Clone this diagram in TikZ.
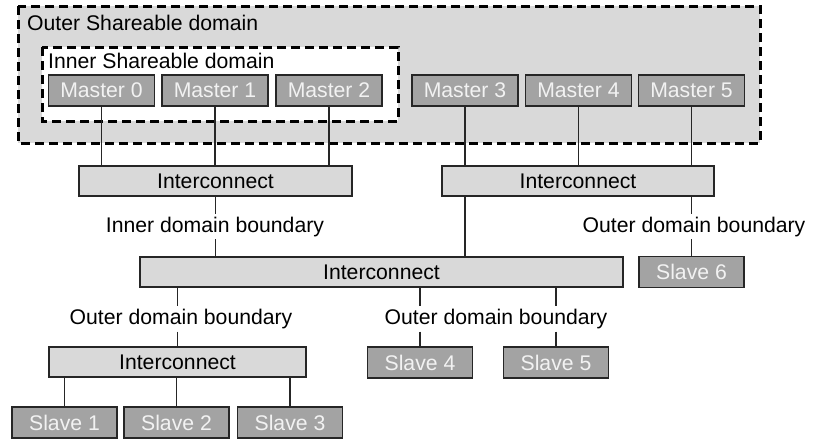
\documentclass[tikz,border=0pt]{standalone}
\usepackage{fontspec}
\setmainfont{Liberation Sans}
\definecolor{boxlight}{HTML}{D9D9D9}
\definecolor{devgray}{HTML}{A3A3A3}
\definecolor{devtext}{HTML}{F2F2F2}
\definecolor{linec}{HTML}{262626}
\begin{document}
\begin{tikzpicture}[x=1pt,y=-1pt,
  font=\fontsize{21.2}{25}\selectfont,
  every node/.style={inner sep=0pt},
  dev/.style={draw=linec, line width=1.2pt, fill=devgray, text=devtext,
    minimum width=106pt, minimum height=31pt},
  ic/.style={draw=linec, line width=1.2pt, fill=boxlight, minimum height=30pt},
  dom/.style={line width=3pt, dash pattern=on 9pt off 5pt},
  wire/.style={line width=1.2pt, draw=linec},
  lbl/.style={inner xsep=2pt, inner ysep=3pt, text height=15pt, text depth=4pt}]
\useasboundingbox (0,0) rectangle (822,439);
% domains
\draw[dom, fill=boxlight] (18,6) rectangle (760,143);
\draw[dom, fill=white] (42,47) rectangle (398,121);
\node[anchor=west] (outerlbl) at (27,23) {Outer Shareable domain};
\node[anchor=west] (innerlbl) at (48,61) {Inner Shareable domain};
% masters
\node[dev] (m0) at (101.5,90.5) {Master 0};
\node[dev] (m1) at (215,90.5) {Master 1};
\node[dev] (m2) at (329,90.5) {Master 2};
\node[dev] (m3) at (465,90.5) {Master 3};
\node[dev] (m4) at (578.5,90.5) {Master 4};
\node[dev] (m5) at (691.5,90.5) {Master 5};
% interconnects
\node[ic, minimum width=273pt] (ic1) at (215.5,181) {Interconnect};
\node[ic, minimum width=272pt] (ic2) at (578,181) {Interconnect};
\node[ic, minimum width=483pt] (icm) at (381.5,272) {Interconnect};
\node[ic, minimum width=257pt] (icb) at (177.5,362) {Interconnect};
% slaves
\node[dev, minimum width=105pt] (s6) at (691.5,272) {Slave 6};
\node[dev, minimum width=105pt] (s4) at (420,362.5) {Slave 4};
\node[dev, minimum width=105pt] (s5) at (556,362.5) {Slave 5};
\node[dev, minimum width=105pt] (s1) at (64.5,422.5) {Slave 1};
\node[dev, minimum width=105pt] (s2) at (176.5,422.5) {Slave 2};
\node[dev, minimum width=105pt] (s3) at (290,422.5) {Slave 3};
% boundary labels
\node[lbl] (ib) at (215,226.5) {Inner domain boundary};
\node[lbl] (ob1) at (694,226.5) {Outer domain boundary};
\node[lbl] (ob2) at (181,319) {Outer domain boundary};
\node[lbl] (ob3) at (496,319) {Outer domain boundary};
% wires masters -> interconnects
\draw[wire] (m0) -- (m0 |- ic1.north);
\draw[wire] (m1) -- (m1 |- ic1.north);
\draw[wire] (m2) -- (m2 |- ic1.north);
\draw[wire] (m3) -- (m3 |- ic2.north);
\draw[wire] (m4) -- (m4 |- ic2.north);
\draw[wire] (m5) -- (m5 |- ic2.north);
% ic1 -> main via inner boundary
\draw[wire] (ic1.south) -- (ic1.south |- ib.north);
\draw[wire] (ic1.south |- ib.south) -- (ic1.south |- icm.north);
% ic2 -> main
\draw[wire] (m3 |- ic2.south) -- (m3 |- icm.north);
% ic2 -> slave 6
\draw[wire] (s6 |- ic2.south) -- (s6 |- ob1.north);
\draw[wire] (s6 |- ob1.south) -- (s6.north);
% main -> bottom interconnect
\draw[wire] (icb |- icm.south) -- (icb |- ob2.north);
\draw[wire] (icb |- ob2.south) -- (icb.north);
% main -> slave 4 / 5
\draw[wire] (s4 |- icm.south) -- (s4 |- ob3.north);
\draw[wire] (s4 |- ob3.south) -- (s4.north);
\draw[wire] (s5 |- icm.south) -- (s5 |- ob3.north);
\draw[wire] (s5 |- ob3.south) -- (s5.north);
% bottom interconnect -> slaves
\draw[wire] (s1 |- icb.south) -- (s1.north);
\draw[wire] (s2 |- icb.south) -- (s2.north);
\draw[wire] (s3 |- icb.south) -- (s3.north);
\end{tikzpicture}
\end{document}
